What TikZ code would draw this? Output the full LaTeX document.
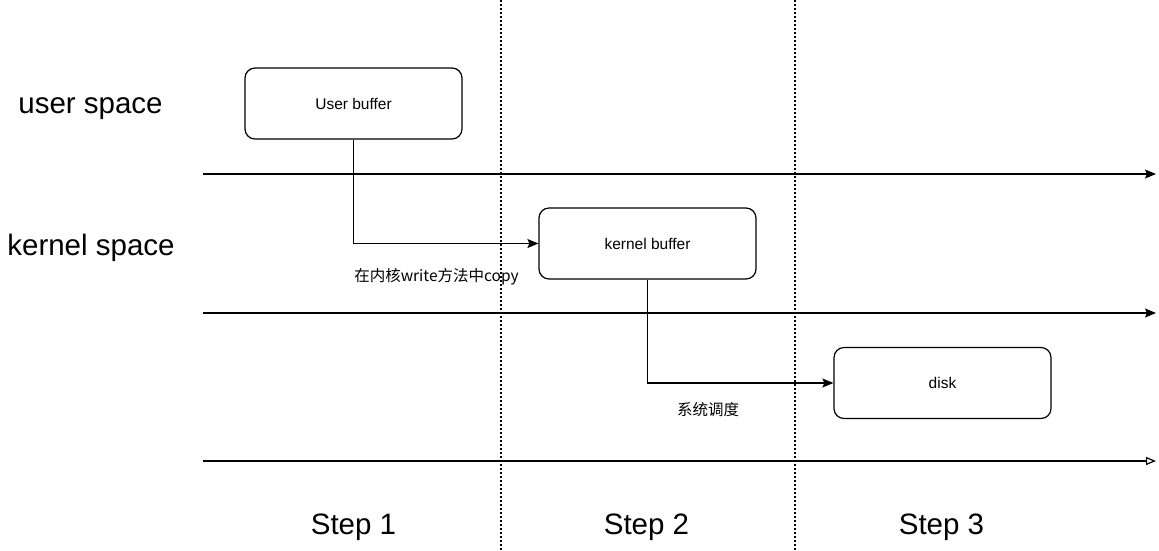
\documentclass[tikz,border=0pt]{standalone}
\usepackage{fontspec}
\setmainfont{Liberation Sans}
\newfontfamily\cjk{Noto Sans CJK SC}
\usetikzlibrary{arrows.meta}
\usetikzlibrary{calc,positioning}

\begin{document}
\begin{tikzpicture}[x=1pt, y=-1pt, buf/.style = {rectangle, draw, rounded corners=10pt, minimum width=217pt, minimum height=71pt, inner sep=0, line width=1.2pt, font=\fontsize{15.5}{18}\selectfont}, big/.style = {font=\fontsize{29.5}{34}\selectfont}, note/.style = {font=\cjk\fontsize{15.5}{18}\selectfont}, link/.style = {line width=1.2pt, -{Stealth[length=11pt,width=9pt,inset=2pt]}}, sep/.style = {line width=1.1pt, dash pattern=on 2pt off 2pt}]

\useasboundingbox (0,0) rectangle (1159,550);

\node[buf](ubuf) at (353.5,103.5){User buffer};
\node[buf](kbuf) at (647.5,243.5){kernel buffer};
\node[buf](disk) at (942.5,383){disk};

\node[big](user) at (90.5,109){user space};
\node[big](kernel) at (91,247.5){kernel space};
\node[big](s1) at (353.5,527){Step 1};
\node[big](s2) at (646.5,527){Step 2};
\node[big](s3) at (941.5,527){Step 3};

\node[note](copy) at (436.5,277){在内核write方法中copy};
\node[note](sched) at (708,410){系统调度};

\coordinate (u0) at (203,174);
\coordinate (u1) at (1156,174);
\coordinate (k0) at (203,313);
\coordinate (k1) at (1156,313);
\coordinate (h0) at (203,461);
\coordinate (h1) at (1156,461);
\coordinate (d1a) at (501,0);
\coordinate (d1b) at (501,550);
\coordinate (d2a) at (795,0);
\coordinate (d2b) at (795,550);

\draw [sep] (d1a) -- (d1b);
\draw [sep] (d2a) -- (d2b);

\draw [link] (u0) -- (u1);
\draw [link] (k0) -- (k1);
\draw [line width=1.2pt, -{Triangle[open,length=10pt,width=8pt]}] (h0) -- (h1);

\draw [link] (ubuf.south) |- (kbuf.west);
\draw [link] (kbuf.south) |- (disk.west);

\end{tikzpicture}
\end{document}
